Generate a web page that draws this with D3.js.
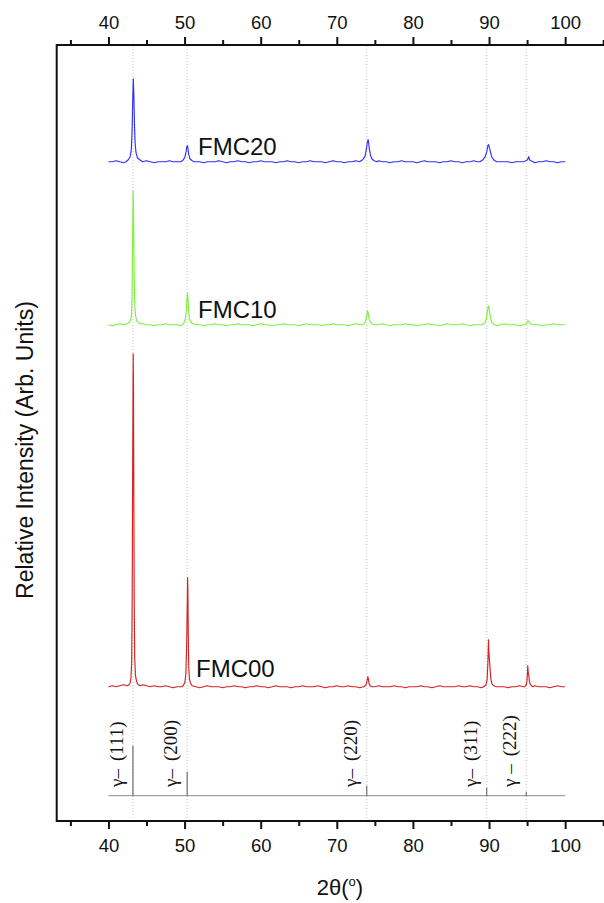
<!DOCTYPE html>
<html>
<head>
<meta charset="utf-8">
<script src="https://cdn.jsdelivr.net/npm/d3@7"></script>
<style>
  html, body { margin: 0; padding: 0; background: #fff; }
  svg { display: block; }
</style>
</head>
<body>
<svg id="chart" width="604" height="903"></svg>
<script>
// ---------------- DATA ----------------
const seriesNames = ["FMC00", "FMC10", "FMC20"];
const seriesOffsets = [108, 470, 633];          // vertical stacking offset (a.u.)

// baseline noise, sampled every 0.5° from 40° to 100° (a.u.)
const noiseFMC00 = [1,2,1,2,3,4,2,3,2,3, 2,1,2,1,1,2,1,0,1,1, 1,2,1,1,0,1,2,1,1,1, 0,1,1,2,1,1,0,1,1,2, 1,1,0,1,2,1,1,1,0,1, 1,2,1,1,1,2,1,0,1,1, 2,1,1,2,1,1,0,1,1,2, 1,2,1,1,1,2,1,1,0,1, 1,1,2,1,1,0,1,2,1,1, 1,1,2,1,1,2,1,1,0,1, 1,2,1,1,1,0,1,1,2,1, 1,1,2,1,1,1,0,1,2,1, 1];
const noiseFMC10 = [1,0,1,2,1,1,2,1,1,2, 1,1,0,1,1,2,1,1,1,0, 1,2,1,1,1,0,1,1,2,1, 1,0,1,1,2,1,1,1,0,1, 2,1,1,0,1,1,2,1,1,1, 0,1,2,1,1,1,0,1,1,2, 1,1,1,0,1,2,1,1,1,0, 1,1,2,1,0,1,1,1,2,1, 1,0,1,1,2,1,1,0,1,2, 1,1,1,2,1,0,1,1,1,2, 1,1,0,1,2,1,1,1,0,1, 1,2,1,1,0,1,1,2,1,1, 1];
const noiseFMC20 = [1,1,2,1,0,1,1,2,1,1, 2,1,0,1,1,1,2,1,1,0, 1,1,2,1,1,0,1,1,1,2, 1,0,1,1,2,1,1,0,1,1, 2,1,1,1,0,1,1,2,1,1, 0,1,1,2,1,1,1,0,1,2, 1,1,0,1,1,2,1,1,1,0, 1,2,1,1,0,1,1,2,1,1, 1,0,1,2,1,1,1,0,1,1, 2,1,1,0,1,1,2,1,1,1, 0,1,2,1,1,1,0,1,1,2, 1,1,0,1,1,2,1,1,0,1, 1];
const noiseStart = 40, noiseStep = 0.5;

// diffraction peaks, [2θ, intensity] (a.u.)
const peaksFMC00 = [
  [[42.5,2],[42.7,3],[42.85,5],[42.95,9],[43.05,25],[43.12,90],[43.18,220],[43.25,334],[43.29,300],[43.34,180],[43.39,80],[43.45,30],[43.55,12],[43.7,6],[43.9,3],[44.2,2]],
  [[49.7,1],[49.9,3],[50.05,6],[50.17,14],[50.28,45],[50.4,110],[50.44,95],[50.49,50],[50.55,20],[50.65,8],[50.8,4],[51.0,2]],
  [[73.6,1],[73.85,3],[73.98,7],[74.08,11],[74.14,9],[74.22,5],[74.36,2],[74.6,1]],
  [[89.3,1],[89.6,3],[89.75,8],[89.85,25],[89.93,48],[89.99,35],[90.06,27],[90.13,20],[90.22,10],[90.36,4],[90.6,2]],
  [[94.7,1],[94.9,3],[95.0,8],[95.09,22],[95.15,15],[95.23,12],[95.31,6],[95.45,3],[95.7,1]]
];
const peaksFMC10 = [
  [[42.4,2],[42.7,3],[42.9,5],[43.02,10],[43.1,30],[43.17,80],[43.24,135],[43.3,110],[43.37,55],[43.45,22],[43.56,10],[43.7,5],[43.95,3],[44.3,2]],
  [[49.7,1],[49.95,3],[50.1,7],[50.22,15],[50.31,27],[50.39,33],[50.46,25],[50.54,14],[50.64,7],[50.8,4],[51.1,2]],
  [[73.3,1],[73.6,2],[73.8,5],[73.94,10],[74.04,15],[74.12,13],[74.22,8],[74.36,4],[74.6,2],[74.9,1]],
  [[89.1,1],[89.45,3],[89.65,7],[89.8,15],[89.91,20],[89.99,18],[90.09,13],[90.21,7],[90.4,3],[90.7,1]],
  [[94.6,1],[94.9,2],[95.12,5],[95.22,4],[95.4,2],[95.7,1]]
];
const peaksFMC20 = [
  [[42.3,1],[42.6,3],[42.85,6],[43.0,13],[43.1,30],[43.18,60],[43.26,84],[43.33,70],[43.41,40],[43.5,20],[43.62,10],[43.8,5],[44.1,3],[44.5,1]],
  [[49.5,1],[49.85,3],[50.05,6],[50.2,11],[50.3,16],[50.38,17],[50.46,13],[50.56,8],[50.7,4],[51.0,2],[51.3,1]],
  [[73.0,1],[73.4,3],[73.7,6],[73.88,13],[74.0,20],[74.12,23],[74.2,19],[74.29,13],[74.41,8],[74.6,4],[74.9,2],[75.3,1]],
  [[88.8,1],[89.2,3],[89.5,6],[89.7,11],[89.85,17],[89.95,18],[90.05,15],[90.18,11],[90.35,6],[90.6,3],[91.0,1]],
  [[94.5,1],[94.85,2],[95.05,3],[95.22,6],[95.32,3],[95.5,2],[95.8,1]]
];

// reference γ (austenite) reflections
const refPositions = [43.22, 50.34, 73.94, 89.70, 94.89];
const refHeights   = [50, 24, 10, 8, 4];
const refLabels    = [["γ–", "(111)"], ["γ–", "(200)"], ["γ–", "(220)"], ["γ–", "(311)"], ["γ –", "(222)"]];

const xMajorTicks = [40, 50, 60, 70, 80, 90, 100];
const xMinorTicks = [35, 45, 55, 65, 75, 85, 95, 105];

// ---------------- LAYOUT ----------------
const colors = { FMC00: "#d42222", FMC10: "#7ef03c", FMC20: "#3030f4" };
const svg = d3.select("#chart");
const W = 604, H = 903;
const plotLeft = 56.7, plotRight = 616.9, plotTop = 45, plotBottom = 821;

const x = d3.scaleLinear().domain([33.2, 106.8]).range([plotLeft, plotRight]);
const y = d3.scaleLinear().domain([0, 750.7]).range([795.7, plotTop]);

svg.append("defs").append("clipPath").attr("id", "clipAll")
  .append("rect").attr("x", 0).attr("y", 0).attr("width", W).attr("height", H);
const root = svg.append("g").attr("clip-path", "url(#clipAll)");

// dotted guide lines at reference positions
root.append("g").selectAll("line").data(refPositions).join("line")
  .attr("x1", d => x(d)).attr("x2", d => x(d))
  .attr("y1", plotTop + 1).attr("y2", plotBottom - 1)
  .attr("stroke", "#c4c4c4").attr("stroke-width", 1)
  .attr("stroke-dasharray", "1,2");

// build series
const peakSets = { FMC00: peaksFMC00, FMC10: peaksFMC10, FMC20: peaksFMC20 };
const noiseSets = { FMC00: noiseFMC00, FMC10: noiseFMC10, FMC20: noiseFMC20 };

function buildSeries(name) {
  const peaks = peakSets[name];
  const windows = peaks.map(p => [p[0][0], p[p.length - 1][0]]);
  const pts = [];
  noiseSets[name].forEach((v, i) => {
    const t = noiseStart + i * noiseStep;
    if (!windows.some(w => t >= w[0] && t <= w[1])) pts.push([t, v]);
  });
  peaks.forEach(p => p.forEach(q => pts.push(q)));
  pts.sort((a, b) => a[0] - b[0]);
  return pts;
}

const line = d3.line().x(d => x(d[0])).y(d => y(d[1]));

seriesNames.forEach((name, k) => {
  const off = seriesOffsets[k];
  const pts = buildSeries(name).map(d => [d[0], d[1] + off]);
  root.append("path").datum(pts)
    .attr("d", line)
    .attr("fill", "none")
    .attr("stroke", colors[name])
    .attr("stroke-width", 1.15)
    .attr("stroke-linejoin", "round");
});

// series labels
const labelPos = { FMC20: [198, 155], FMC10: [198, 318], FMC00: [196, 677] };
seriesNames.forEach(name => {
  root.append("text")
    .attr("x", labelPos[name][0]).attr("y", labelPos[name][1])
    .attr("font-family", "Liberation Sans, Arial, sans-serif")
    .attr("font-size", 24).attr("fill", "#111")
    .text(name);
});

// reference pattern
root.append("line")
  .attr("x1", x(40)).attr("x2", x(100))
  .attr("y1", y(0)).attr("y2", y(0))
  .attr("stroke", "#8a8a8a").attr("stroke-width", 1);
root.append("g").selectAll("line").data(refPositions).join("line")
  .attr("x1", d => x(d)).attr("x2", d => x(d))
  .attr("y1", y(0)).attr("y2", (d, i) => y(refHeights[i]))
  .attr("stroke", "#555").attr("stroke-width", 1);

refPositions.forEach((p, i) => {
  const tx = x(p) - 10, ty = 787;
  const t = root.append("text")
    .attr("transform", `translate(${tx},${ty}) rotate(-90)`)
    .attr("font-family", "Liberation Serif, Times New Roman, serif")
    .attr("font-size", 19).attr("fill", "#111");
  t.append("tspan").text(refLabels[i][0]);
  t.append("tspan").attr("dx", 8).text(refLabels[i][1]);
});

// frame
root.append("rect")
  .attr("x", plotLeft).attr("y", plotTop)
  .attr("width", plotRight - plotLeft).attr("height", plotBottom - plotTop)
  .attr("fill", "none").attr("stroke", "#111").attr("stroke-width", 2);

// axes
function styleAxis(g) {
  g.select(".domain").remove();
  g.selectAll(".tick line").attr("stroke", "#111").attr("stroke-width", 2);
  g.selectAll(".tick text")
    .attr("font-family", "Liberation Sans, Arial, sans-serif")
    .attr("font-size", 18.5).attr("fill", "#111");
}
const fmt = d3.format("d");
root.append("g").attr("transform", `translate(0,${plotBottom})`)
  .call(d3.axisBottom(x).tickValues(xMajorTicks).tickFormat(fmt).tickSize(8).tickPadding(10).tickSizeOuter(0))
  .call(styleAxis);
root.append("g").attr("transform", `translate(0,${plotBottom})`)
  .call(d3.axisBottom(x).tickValues(xMinorTicks).tickFormat("").tickSize(5).tickSizeOuter(0))
  .call(styleAxis);
root.append("g").attr("transform", `translate(0,${plotTop})`)
  .call(d3.axisTop(x).tickValues(xMajorTicks).tickFormat(fmt).tickSize(8).tickPadding(8).tickSizeOuter(0))
  .call(styleAxis);
root.append("g").attr("transform", `translate(0,${plotTop})`)
  .call(d3.axisTop(x).tickValues(xMinorTicks).tickFormat("").tickSize(5).tickSizeOuter(0))
  .call(styleAxis);

// axis titles
const xt = root.append("text")
  .attr("x", 340).attr("y", 895)
  .attr("text-anchor", "middle")
  .attr("font-family", "Liberation Sans, Arial, sans-serif")
  .attr("font-size", 22).attr("fill", "#111");
xt.append("tspan").text("2θ(");
xt.append("tspan").attr("font-size", 13).attr("dy", -9).text("o");
xt.append("tspan").attr("dy", 9).text(")");

root.append("text")
  .attr("transform", `translate(33,450) rotate(-90)`)
  .attr("text-anchor", "middle")
  .attr("font-family", "Liberation Sans, Arial, sans-serif")
  .attr("font-size", 23).attr("fill", "#111")
  .text("Relative Intensity (Arb. Units)");
</script>
</body>
</html>
